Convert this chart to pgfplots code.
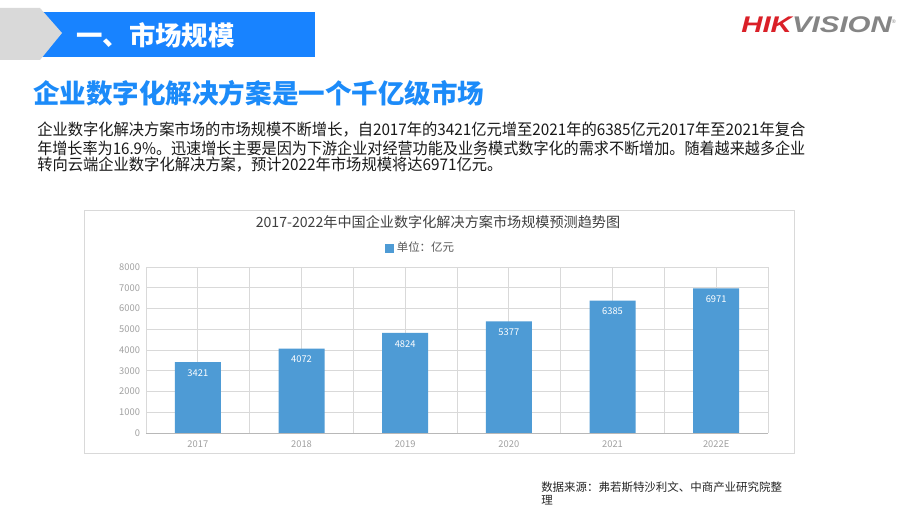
\documentclass[border=0pt]{standalone}
\usepackage{pgfplots}
\pgfplotsset{compat=1.18}
\usepackage{fontspec}
\setmainfont{Noto Sans CJK SC}
\newfontfamily\logofont{Liberation Sans}

\definecolor{hdrblue}{HTML}{1883FF}
\definecolor{ttlblue}{HTML}{1C8BF9}
\definecolor{hdrgray}{HTML}{D9D9D9}
\definecolor{barblue}{HTML}{4E9BD5}
\definecolor{gridgray}{HTML}{D9D9D9}
\definecolor{ticktxt}{HTML}{A0A0A0}
\definecolor{logored}{HTML}{DA2028}
\definecolor{logogray}{HTML}{858585}

\begin{document}
\begin{tikzpicture}[x=0.75pt,y=0.75pt]
  \path[use as bounding box, fill=white] (0,0) rectangle (907,510);

  % header band
  \fill[hdrblue] (37,498) rectangle (315,453);
  \fill[hdrgray] (0,502) -- (40,502) -- (62,477) -- (40,450) -- (0,450) -- cycle;
  \node[anchor=west, inner sep=0, text=white, font=\fontsize{19.8}{21}\selectfont\bfseries] at (76,475) {一、市场规模};

  % logo
  \node[anchor=west, inner sep=0] at (741,485) {\scalebox{1.3}[1]{\logofont\fontsize{17}{17}\selectfont\bfseries\itshape\textcolor{logored}{HIK}\textcolor{logogray}{VISION}}\raisebox{1.3ex}{\logofont\fontsize{4}{4}\selectfont\textcolor{logogray}{®}}};

  % title
  \node[anchor=west, inner sep=0, text=ttlblue, font=\fontsize{19.9}{21}\selectfont\bfseries] at (33,417) {企业数字化解决方案是一个千亿级市场};

  % paragraph
  \begin{scope}[every node/.style={anchor=west, inner sep=0, text=black!90, font=\fontsize{12}{13}\selectfont}]
    \node at (37,380) {\resizebox{576pt}{\height}{企业数字化解决方案市场的市场规模不断增长，自2017年的3421亿元增至2021年的6385亿元2017年至2021年复合}};
    \node at (37,362) {\resizebox{576pt}{\height}{年增长率为16.9\%。迅速增长主要是因为下游企业对经营功能及业务模式数字化的需求不断增加。随着越来越多企业}};
    \node at (37,345) {\scalebox{0.955}[1]{转向云端企业数字化解决方案，预计2022年市场规模将达6971亿元。}};
  \end{scope}

  % chart frame
  \draw[gridgray, line width=0.75pt] (84,299) rectangle (794,56);
  \node[text=black!75, font=\fontsize{10.6}{12}\selectfont] at (438,288) {2017-2022年中国企业数字化解决方案市场规模预测趋势图};

  \begin{axis}[
      at={(109.5pt,57.75pt)}, anchor=south west,
      scale only axis,
      width=466.5pt, height=124.5pt,
      ybar, bar width=34.5pt,
      xmin=-0.5, xmax=5.5,
      ymin=0, ymax=8000,
      xtick={0,1,2,3,4,5},
      xticklabels={2017,2018,2019,2020,2021,2022E},
      minor xtick={-0.5,0.5,1.5,2.5,3.5,4.5,5.5},
      ytick={0,1000,...,8000},
      grid=both,
      major grid style={gridgray, line width=0.6pt},
      minor grid style={gridgray, line width=0.6pt},
      major tick length=0pt, minor tick length=0pt,
      axis lines*=left,
      x axis line style={draw=black!28, line width=0.6pt},
      y axis line style={draw=none},
      /pgf/number format/assume math mode=true,
      /pgf/number format/1000 sep={},
      tick label style={text=ticktxt, font=\fontsize{7}{8}\selectfont},
      yticklabel style={xshift=-1pt},
      xticklabel style={yshift=-2pt},
      nodes near coords,
      nodes near coords style={text=white, anchor=north, yshift=-2pt, font=\fontsize{7}{8}\selectfont},
      legend style={at={(axis description cs:0.442,1.114)}, anchor=center, draw=none, fill=none,
        font=\fontsize{8.6}{9}\selectfont, text=black!65, inner sep=0pt},
      legend image code/.code={\fill[barblue] (-0.03cm,-0.12cm) rectangle (0.21cm,0.12cm);},
    ]
    \addplot[fill=barblue, draw=none] coordinates {
      (0,3421) (1,4072) (2,4824) (3,5377) (4,6385) (5,6971)
    };
    \addlegendentry{单位：亿元}
  \end{axis}

  % source
  \begin{scope}[every node/.style={anchor=west, inner sep=0, text=black!85, font=\fontsize{8.6}{10}\selectfont}]
    \node at (541,23) {数据来源：弗若斯特沙利文、中商产业研究院整};
    \node at (541,10) {理};
  \end{scope}
\end{tikzpicture}
\end{document}
